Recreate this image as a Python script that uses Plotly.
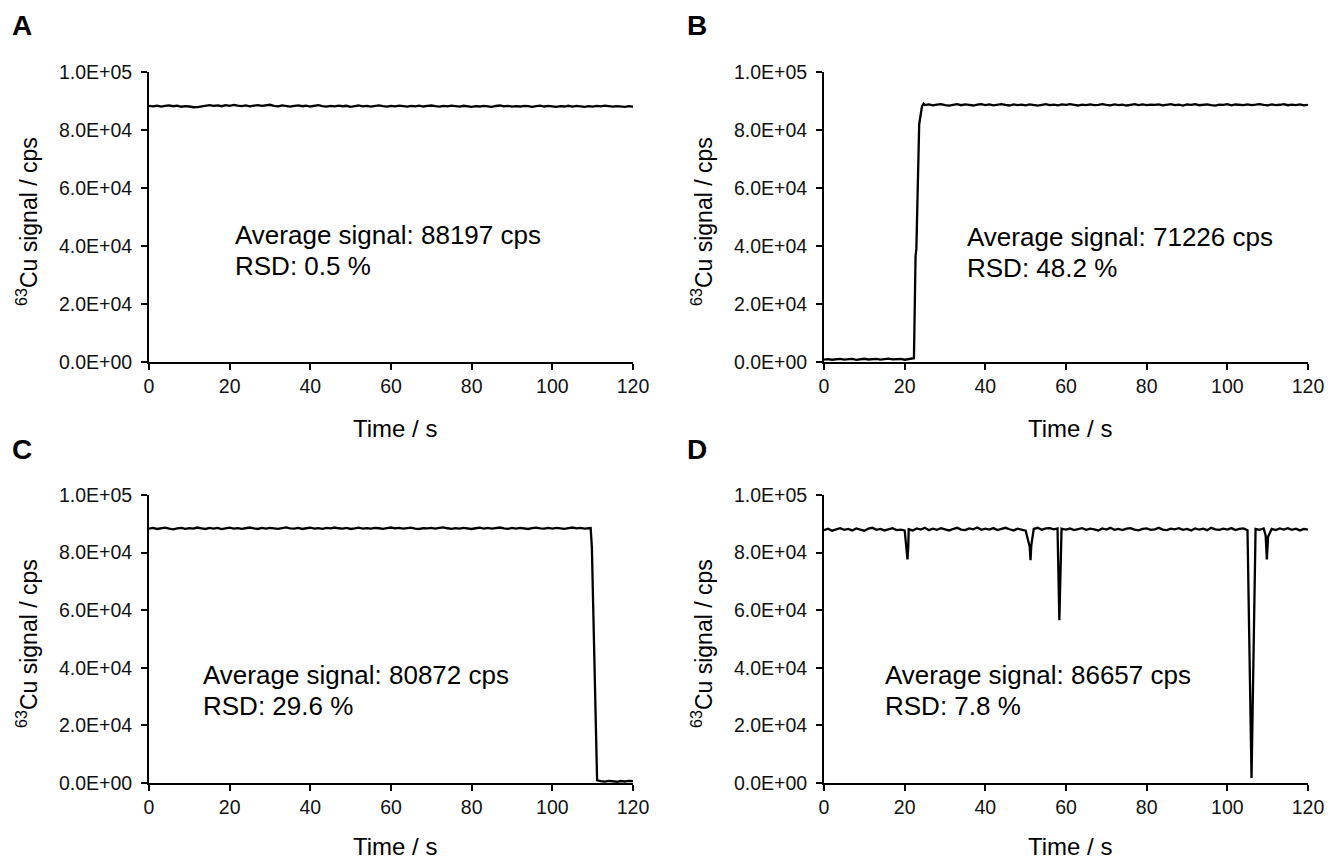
import plotly.graph_objects as go

# ---------------- data ----------------
A_time = list(range(0, 121))
A_signal = [88300, 88150, 88420, 88050, 88310, 88500, 88200, 88380, 88020, 88260,
            88100, 87850, 87900, 88050, 88420, 88600, 88350, 88480, 88200, 88550,
            88300, 88650, 88400, 88250, 88500, 88180, 88420, 88600, 88300, 88450,
            88700, 88350, 88150, 88500, 88280, 88050, 88320, 88480, 88200, 88400,
            88100, 88350, 88550, 88250, 88050, 88300, 88150, 88400, 88200, 88350,
            88000, 88250, 88450, 88150, 88300, 88080, 88350, 88500, 88200, 88050,
            88300, 88150, 88420, 88250, 88080, 88350, 88180, 88400, 88100, 88300,
            88450, 88200, 88050, 88300, 88150, 88400, 88250, 88050, 88350, 88200,
            87950, 88250, 88100, 88350, 88150, 88000, 88280, 88450, 88150, 88300,
            88050, 88250, 88100, 88350, 88200, 87980, 88250, 88400, 88100, 88300,
            88150, 88000, 88250, 88100, 88350, 88050, 88300, 88150, 87950, 88200,
            88050, 88300, 88150, 88400, 88200, 88050, 88250, 88100, 87950, 88200, 88050]

B_time_base = list(range(0, 23))
B_signal_base = [850, 1020, 780, 950, 1100, 820, 900, 1050, 760, 980, 1120, 870,
                 940, 1060, 800, 990, 1150, 880, 920, 1040, 790, 960, 1080]
B_time_rise = [22.3, 22.7, 22.9, 23.6, 23.9, 24.3, 24.7]
B_signal_rise = [1300, 36500, 39000, 82000, 84500, 88200, 89100]
B_time_plateau = list(range(25, 121))
B_signal_plateau = [88600, 88850, 88500, 88750, 88950, 88600, 88400, 88700, 88900, 88550,
                    88800, 88650, 88450, 88750, 88900, 88600, 88800, 88500, 88700, 88950,
                    88650, 88450, 88800, 88600, 88750, 88500, 88850, 88650, 88400, 88700,
                    88900, 88600, 88750, 88500, 88800, 88650, 88950, 88700, 88450, 88750,
                    88600, 88850, 88550, 88700, 88900, 88650, 88500, 88800, 88600, 88750,
                    88450, 88700, 88900, 88600, 88800, 88550, 88750, 88650, 88850, 88500,
                    88700, 88950, 88600, 88750, 88450, 88800, 88650, 88900, 88550, 88700,
                    88850, 88600, 88400, 88750, 88650, 88900, 88500, 88800, 88700, 88550,
                    88850, 88600, 88750, 88950, 88650, 88500, 88800, 88600, 88700, 88900,
                    88550, 88750, 88600, 88850, 88500, 88700]

C_time_plateau = list(range(0, 110))
C_signal_plateau = [88300, 88550, 88200, 88450, 88650, 88350, 88100, 88400, 88600, 88250,
                    88500, 88300, 88700, 88450, 88200, 88550, 88350, 88600, 88150, 88400,
                    88650, 88300, 88500, 88250, 88450, 88700, 88400, 88200, 88550, 88350,
                    88600, 88450, 88250, 88500, 88750, 88400, 88300, 88550, 88200, 88450,
                    88650, 88350, 88500, 88250, 88600, 88400, 88700, 88450, 88300, 88550,
                    88200, 88400, 88650, 88350, 88500, 88300, 88600, 88450, 88250, 88500,
                    88700, 88400, 88550, 88300, 88450, 88650, 88350, 88200, 88500, 88400,
                    88600, 88300, 88550, 88750, 88450, 88250, 88500, 88350, 88600, 88400,
                    88200, 88450, 88650, 88350, 88550, 88300, 88500, 88700, 88400, 88250,
                    88550, 88350, 88600, 88450, 88200, 88500, 88650, 88400, 88300, 88550,
                    88350, 88600, 88450, 88250, 88500, 88700, 88400, 88550, 88300, 88600]
C_time_drop = [109.5, 109.8, 110.5, 111.1]
C_signal_drop = [88500, 82000, 35000, 900]
C_time_tail = list(range(112, 121))
C_signal_tail = [650, 500, 720, 580, 430, 690, 520, 760, 600]

D_time = ([0, 1, 2, 3, 4, 5, 6, 7, 8, 9, 10, 11, 12, 13, 14, 15, 16, 17, 18, 19, 20,
           20.5, 20.7, 20.9,
           21, 22, 23, 24, 25, 26, 27, 28, 29, 30, 31, 32, 33, 34, 35, 36, 37, 38, 39, 40,
           41, 42, 43, 44, 45, 46, 47, 48, 49, 50,
           51.0, 51.2, 51.4,
           52, 53, 54, 55, 56, 57,
           57.9, 58.35, 58.9,
           60, 61, 62, 63, 64, 65, 66, 67, 68, 69, 70, 71, 72, 73, 74, 75, 76, 77, 78, 79,
           80, 81, 82, 83, 84, 85, 86, 87, 88, 89, 90, 91, 92, 93, 94, 95, 96, 97, 98, 99,
           100, 101, 102, 103, 104,
           105.0, 106.0, 107.0,
           108, 109,
           109.5, 109.8, 110.1,
           111, 112, 113, 114, 115, 116, 117, 118, 119, 120])
D_signal = ([87800, 88300, 87600, 88100, 88500, 87900, 88200, 87700, 88400, 88000, 87600,
             88300, 88600, 87900, 88200, 87700, 88100, 88500, 87800, 88000, 87700,
             82000, 77600, 82500,
             88100, 87700, 88400, 88000, 88600, 87800, 88300, 87900, 88500, 88100,
             87700, 88200, 88600, 88000, 87800, 88400, 88100, 88700, 87900, 88300,
             88000, 88500, 87800, 88200, 88600, 88100, 87700, 88300, 87900, 87600,
             82000, 77400, 82500,
             88200, 88600, 87900, 88400, 88500, 88100,
             88400, 56500, 88300,
             88000, 88400, 87800, 88200, 88500, 87900, 88300, 88100, 87700, 88400,
             88000, 88600, 87900, 88200, 87800, 88300, 88500, 88000, 87700, 88200,
             88400, 87900, 88100, 88600, 88000, 87800, 88300, 88100, 88500, 87900,
             88200, 87700, 88400, 88000, 88300, 87800, 88600, 88100, 87900, 88300,
             88000, 88500, 87800, 88200, 88400,
             87800, 1700, 88200,
             87900, 88400,
             86000, 77600, 85500,
             88200, 87800, 88400, 88000, 88500, 87900, 88300, 87700, 88200, 88000])

y_tickvals = [0, 20000, 40000, 60000, 80000, 100000]
y_ticktext = ["0.0E+00", "2.0E+04", "4.0E+04", "6.0E+04", "8.0E+04", "1.0E+05"]
x_tickvals = [0, 20, 40, 60, 80, 100, 120]

panel_labels = ["A", "B", "C", "D"]
avg_texts = ["Average signal: 88197 cps", "Average signal: 71226 cps",
             "Average signal: 80872 cps", "Average signal: 86657 cps"]
rsd_texts = ["RSD: 0.5 %", "RSD: 48.2 %", "RSD: 29.6 %", "RSD: 7.8 %"]

# ---------------- layout geometry ----------------
W, H = 1339, 861
FONT = "Liberation Sans, Arial, sans-serif"

def px_x(p):
    return p / W

def px_y(p):
    return 1 - p / H

# plot areas (left, right, top, bottom) in pixels
areas = [(149, 633, 72, 362), (824, 1308, 72, 362),
         (149, 633, 495, 783), (824, 1308, 495, 783)]

series = [
    (A_time, A_signal),
    (B_time_base + B_time_rise + B_time_plateau, B_signal_base + B_signal_rise + B_signal_plateau),
    (C_time_plateau + C_time_drop + C_time_tail, C_signal_plateau + C_signal_drop + C_signal_tail),
    (D_time, D_signal),
]

fig = go.Figure()
layout = dict(
    template="none",
    width=W, height=H, autosize=False,
    margin=dict(l=0, r=0, t=0, b=0, pad=0, autoexpand=False),
    paper_bgcolor="white", plot_bgcolor="white",
    showlegend=False,
    font=dict(family=FONT, color="#000000"),
)

axis_common = dict(showline=True, linecolor="black", linewidth=1.8, mirror=False,
                   ticks="outside", ticklen=6, tickwidth=1.8, tickcolor="black",
                   showgrid=False, zeroline=False, automargin=False,
                   tickfont=dict(family=FONT, size=19.5, color="#111111"))

annotations = []
for i, (l, r, t, b) in enumerate(areas):
    n = "" if i == 0 else str(i + 1)
    xs, ys = series[i]
    fig.add_trace(go.Scatter(x=xs, y=ys, mode="lines",
                             line=dict(color="black", width=2.3),
                             xaxis="x" + n, yaxis="y" + n, hoverinfo="skip"))
    layout["xaxis" + n] = dict(axis_common, domain=[px_x(l), px_x(r)], range=[0, 120],
                               tickvals=x_tickvals, anchor="y" + n)
    layout["yaxis" + n] = dict(axis_common, domain=[px_y(b), px_y(t)], range=[0, 100000],
                               tickvals=y_tickvals, ticktext=y_ticktext, anchor="x" + n,
                               ticklabelstandoff=5)

    # panel label
    annotations.append(dict(xref="paper", yref="paper", x=px_x(l - 127), y=px_y(t - 46),
                            text="<b>%s</b>" % panel_labels[i], showarrow=False,
                            xanchor="center", yanchor="middle",
                            font=dict(family=FONT, size=28, color="black")))
    # y title
    annotations.append(dict(xref="paper", yref="paper", x=px_x(l - 122), y=px_y((t + b) / 2 + 5),
                            text="<sup>63</sup>Cu signal / cps", textangle=-90, showarrow=False,
                            xanchor="center", yanchor="middle",
                            font=dict(family=FONT, size=23, color="black")))
    # x title
    if b + 66 + 16 > H:
        annotations.append(dict(xref="paper", yref="paper", x=px_x((l + r) / 2 + 4), y=0,
                                text="Time / s", showarrow=False, borderpad=0,
                                xanchor="center", yanchor="bottom",
                                font=dict(family=FONT, size=24, color="black")))
    else:
        annotations.append(dict(xref="paper", yref="paper", x=px_x((l + r) / 2 + 4), y=px_y(b + 66),
                                text="Time / s", showarrow=False,
                                xanchor="center", yanchor="middle",
                                font=dict(family=FONT, size=24, color="black")))

# stats text positions (left x, first line y)
stat_pos = [(233, 235), (965, 237), (201, 675), (883, 675)]
for i, (sx, sy) in enumerate(stat_pos):
    annotations.append(dict(xref="paper", yref="paper", x=px_x(sx), y=px_y(sy),
                            text=avg_texts[i], showarrow=False,
                            xanchor="left", yanchor="middle",
                            font=dict(family=FONT, size=26, color="black")))
    annotations.append(dict(xref="paper", yref="paper", x=px_x(sx), y=px_y(sy + 31),
                            text=rsd_texts[i], showarrow=False,
                            xanchor="left", yanchor="middle",
                            font=dict(family=FONT, size=26, color="black")))

layout["annotations"] = annotations
fig.update_layout(**layout)
fig.write_html("out.html",
               config={"displayModeBar": False},
               post_script="document.body.style.margin='0';document.body.style.overflow='hidden';")
